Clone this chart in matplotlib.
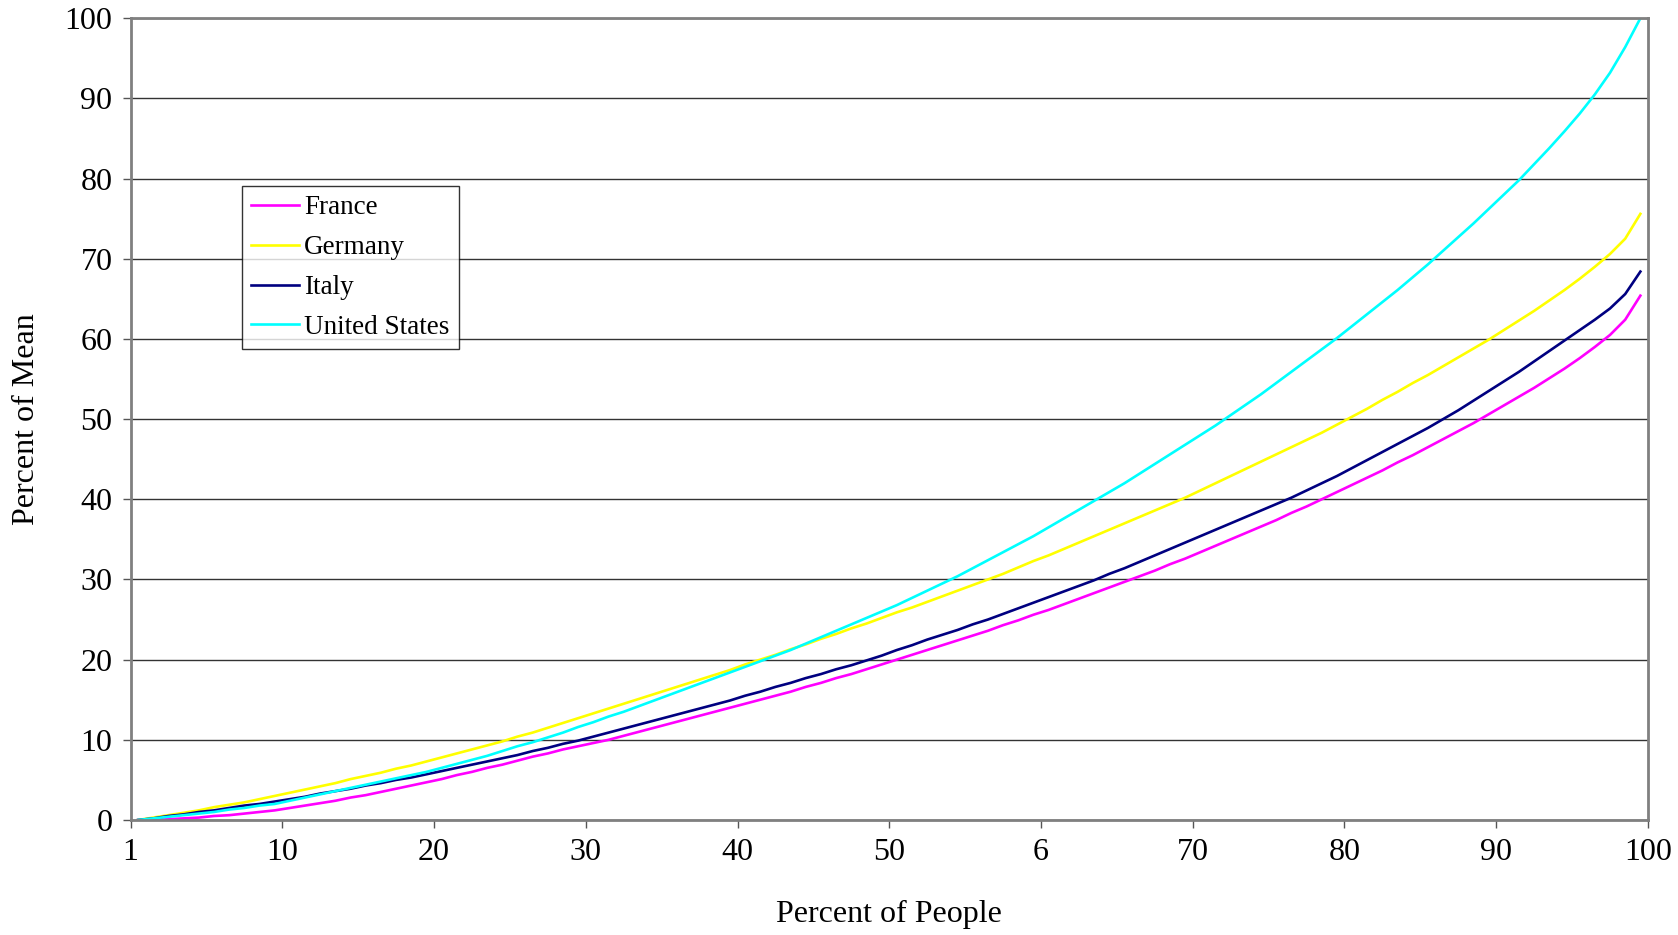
import matplotlib
matplotlib.use("Agg")
import matplotlib.pyplot as plt
import numpy as np

plt.rcParams['font.family'] = ['Liberation Serif', 'DejaVu Serif']

# percentile of people (1..100)
percentiles = np.arange(1, 101)

france = [0.0, 0.0, 0.1, 0.2, 0.3, 0.5, 0.6, 0.8, 1.0, 1.2,
          1.5, 1.8, 2.1, 2.4, 2.8, 3.1, 3.5, 3.9, 4.3, 4.7,
          5.1, 5.6, 6.0, 6.5, 6.9, 7.4, 7.9, 8.3, 8.8, 9.2,
          9.6, 10.0, 10.5, 11.0, 11.5, 12.0, 12.5, 13.0, 13.5, 14.0,
          14.5, 15.0, 15.5, 16.0, 16.6, 17.1, 17.7, 18.2, 18.8, 19.4,
          20.0, 20.6, 21.2, 21.8, 22.4, 23.0, 23.6, 24.3, 24.9, 25.6,
          26.2, 26.9, 27.6, 28.3, 29.0, 29.7, 30.4, 31.1, 31.9, 32.6,
          33.4, 34.2, 35.0, 35.8, 36.6, 37.4, 38.3, 39.1, 40.0, 40.9,
          41.8, 42.7, 43.6, 44.6, 45.5, 46.5, 47.5, 48.5, 49.5, 50.6,
          51.7, 52.8, 53.9, 55.1, 56.3, 57.6, 59.0, 60.5, 62.4, 65.4]

germany = [0.0, 0.3, 0.6, 0.9, 1.2, 1.6, 1.9, 2.2, 2.6, 3.0,
           3.4, 3.8, 4.2, 4.6, 5.1, 5.5, 5.9, 6.4, 6.8, 7.3,
           7.8, 8.3, 8.8, 9.3, 9.8, 10.4, 10.9, 11.5, 12.1, 12.7,
           13.3, 13.9, 14.5, 15.1, 15.7, 16.3, 16.9, 17.5, 18.1, 18.7,
           19.4, 20.0, 20.6, 21.3, 21.9, 22.6, 23.2, 23.9, 24.5, 25.2,
           25.9, 26.5, 27.2, 27.9, 28.6, 29.3, 30.0, 30.7, 31.5, 32.3,
           33.0, 33.8, 34.6, 35.4, 36.2, 37.0, 37.8, 38.6, 39.4, 40.2,
           41.1, 42.0, 42.9, 43.8, 44.7, 45.6, 46.5, 47.4, 48.3, 49.3,
           50.3, 51.3, 52.4, 53.4, 54.5, 55.5, 56.6, 57.7, 58.8, 59.9,
           61.1, 62.3, 63.5, 64.8, 66.1, 67.5, 69.0, 70.6, 72.5, 75.6]

italy = [0.0, 0.2, 0.5, 0.7, 1.0, 1.2, 1.5, 1.8, 2.0, 2.3,
         2.6, 2.9, 3.3, 3.6, 3.9, 4.3, 4.6, 5.0, 5.3, 5.7,
         6.1, 6.5, 6.9, 7.3, 7.7, 8.1, 8.6, 9.0, 9.5, 9.9,
         10.4, 10.9, 11.4, 11.9, 12.4, 12.9, 13.4, 13.9, 14.4, 14.9,
         15.5, 16.0, 16.6, 17.1, 17.7, 18.2, 18.8, 19.3, 19.9, 20.5,
         21.2, 21.8, 22.5, 23.1, 23.7, 24.4, 25.0, 25.7, 26.4, 27.1,
         27.8, 28.5, 29.2, 29.9, 30.7, 31.4, 32.2, 33.0, 33.8, 34.6,
         35.4, 36.2, 37.0, 37.8, 38.6, 39.4, 40.2, 41.1, 42.0, 42.9,
         43.9, 44.9, 45.9, 46.9, 47.9, 48.9, 50.0, 51.1, 52.3, 53.5,
         54.7, 55.9, 57.2, 58.5, 59.8, 61.1, 62.4, 63.8, 65.6, 68.4]

united_states = [0.0, 0.2, 0.4, 0.6, 0.8, 1.0, 1.3, 1.5, 1.8, 2.0,
                 2.4, 2.8, 3.2, 3.6, 4.0, 4.4, 4.8, 5.2, 5.6, 6.0,
                 6.5, 7.0, 7.5, 8.0, 8.6, 9.2, 9.7, 10.3, 10.9, 11.6,
                 12.2, 12.9, 13.5, 14.2, 14.9, 15.6, 16.3, 17.0, 17.7, 18.4,
                 19.1, 19.8, 20.5, 21.2, 22.0, 22.8, 23.6, 24.4, 25.2, 26.0,
                 26.8, 27.7, 28.6, 29.5, 30.4, 31.4, 32.4, 33.4, 34.4, 35.4,
                 36.5, 37.6, 38.7, 39.8, 40.9, 42.0, 43.2, 44.4, 45.6, 46.8,
                 48.0, 49.2, 50.5, 51.8, 53.1, 54.5, 55.9, 57.3, 58.7, 60.1,
                 61.6, 63.1, 64.6, 66.1, 67.7, 69.3, 71.0, 72.7, 74.4, 76.2,
                 78.0, 79.8, 81.8, 83.8, 85.9, 88.1, 90.5, 93.2, 96.4, 100.0]

series_names = ['France', 'Germany', 'Italy', 'United States']
series_colors = ['#FF00FF', '#FFFF00', '#000080', '#00FFFF']

xtick_pos = [0, 10, 20, 30, 40, 50, 60, 70, 80, 90, 100]
xtick_labels = ['1', '10', '20', '30', '40', '50', '6', '70', '80', '90', '100']
ytick_pos = [0, 10, 20, 30, 40, 50, 60, 70, 80, 90, 100]

fig = plt.figure(figsize=(16.78, 9.35), dpi=100)
ax = fig.add_axes([0.0778, 0.123, 0.9043, 0.8575])

# category axis: each point sits in the middle of its slot
x = percentiles - 0.5
for vals, name, col in zip([france, germany, italy, united_states], series_names, series_colors):
    ax.plot(x, vals, color=col, lw=1.9, label=name, solid_joinstyle='miter')

ax.set_xlim(0, 100)
ax.set_ylim(0, 100)
ax.set_xticks(xtick_pos)
ax.set_xticklabels(xtick_labels)
ax.set_yticks(ytick_pos)
ax.tick_params(axis='both', labelsize=23, length=6, width=1, color='#555555', pad=7)

ax.yaxis.grid(True, color='#333333', lw=1.0)
ax.set_axisbelow(True)
for sp in ax.spines.values():
    sp.set_color('#808080')
    sp.set_linewidth(2)

ax.set_xlabel('Percent of People', fontsize=23, labelpad=24)
ax.set_ylabel('Percent of Mean', fontsize=23, labelpad=17)

leg = ax.legend(loc='upper left', bbox_to_anchor=(0.0734, 0.791), borderaxespad=0,
                fontsize=19.5, frameon=True, fancybox=False, handlelength=1.75,
                handletextpad=0.2, labelspacing=0.55, borderpad=0.35)
leg.get_frame().set_edgecolor('black')
leg.get_frame().set_linewidth(1)

fig.savefig('out.png', dpi=100)
